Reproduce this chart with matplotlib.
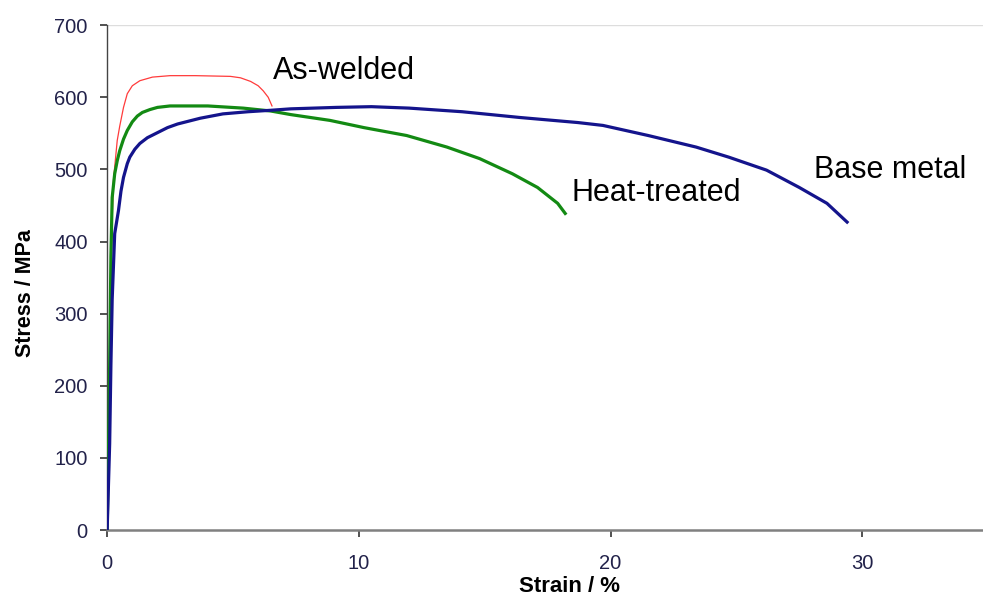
import matplotlib
matplotlib.use('Agg')
import matplotlib.pyplot as plt

# === DATA ===
welded_strain = [0.0, 0.08, 0.1, 0.2, 0.25, 0.4, 0.5, 0.65, 0.8, 1.0, 1.3, 1.8, 2.5, 3.5, 4.9,
                 5.3, 5.7, 6.0, 6.2, 6.4, 6.5, 6.55]
welded_stress = [0, 90, 270, 430, 485, 540, 560, 586, 605, 616, 623, 628, 630, 630, 629,
                 627, 622, 616, 609, 600, 592, 588]

heat_strain = [0.0, 0.05, 0.1, 0.15, 0.2, 0.3, 0.4, 0.5, 0.65, 0.8, 1.0, 1.2, 1.4, 1.7, 2.0, 2.5,
               4.0, 5.4, 6.5, 7.3, 8.85, 10.2, 11.9, 13.5, 14.8, 16.1, 17.1, 17.9, 18.2]
heat_stress = [0, 100, 230, 380, 461, 494, 512, 526, 542, 554, 566, 574, 579, 583, 586, 588,
               588, 585, 581, 576, 568, 558, 547, 531, 515, 494, 475, 453, 439]

base_strain = [0.0, 0.1, 0.15, 0.2, 0.3, 0.45, 0.55, 0.65, 0.8, 0.9, 1.1, 1.3, 1.6, 2.0, 2.4, 2.8,
               3.7, 4.6, 5.6, 6.5, 7.3, 9.1, 10.5, 12.0, 14.1, 16.4, 18.7, 19.7, 21.5, 23.4,
               24.7, 26.2, 27.5, 28.6, 29.4]
base_stress = [0, 120, 230, 320, 411, 443, 470, 489, 508, 517, 528, 536, 544, 551, 558, 563,
               571, 577, 580, 582, 584, 586, 587, 585, 580, 572, 565, 561, 547, 531,
               517, 499, 475, 453, 427]

x_ticks = [0, 10, 20, 30]
y_ticks = [0, 100, 200, 300, 400, 500, 600, 700]

# === PLOT ===
plt.rcParams['font.family'] = ['Liberation Sans', 'DejaVu Sans']

fig = plt.figure(figsize=(9.83, 5.99), dpi=100)
ax = fig.add_axes([0.109, 0.115, 0.891, 0.843])

ax.plot(welded_strain, welded_stress, color='#ff3b3b', linewidth=0.9, zorder=3)
ax.plot(heat_strain, heat_stress, color='#138a13', linewidth=2.3, zorder=4)
ax.plot(base_strain, base_stress, color='#14148c', linewidth=2.3, zorder=5)

ax.text(6.6, 637, "As-welded", fontsize=22, va='center', ha='left')
ax.text(18.45, 467, "Heat-treated", fontsize=22, va='center', ha='left')
ax.text(28.1, 499, "Base metal", fontsize=22, va='center', ha='left')

ax.set_xlim(0, 34.8)
ax.set_ylim(0, 700)
ax.set_xticks(x_ticks)
ax.set_yticks(y_ticks)
ax.axhline(700, color='#dddddd', linewidth=1, zorder=1)

for s in ['top', 'right']:
    ax.spines[s].set_visible(False)
ax.spines['left'].set_color('#444444')
ax.spines['left'].set_linewidth(1.0)
ax.spines['bottom'].set_color('#808080')
ax.spines['bottom'].set_linewidth(1.8)

ax.tick_params(axis='both', direction='out', length=5, width=1.2, color='#333333',
               labelsize=14.5, labelcolor='#22224a')
ax.tick_params(axis='x', pad=12)
ax.tick_params(axis='y', pad=9)

ax.set_xlabel("Strain / %", fontsize=16, fontweight='bold')
ax.set_ylabel("Stress / MPa", fontsize=15.5, fontweight='bold')
ax.xaxis.set_label_coords(0.528, -0.091)
ax.yaxis.set_label_coords(-0.081, 0.469)

fig.savefig("out.png", dpi=100)
